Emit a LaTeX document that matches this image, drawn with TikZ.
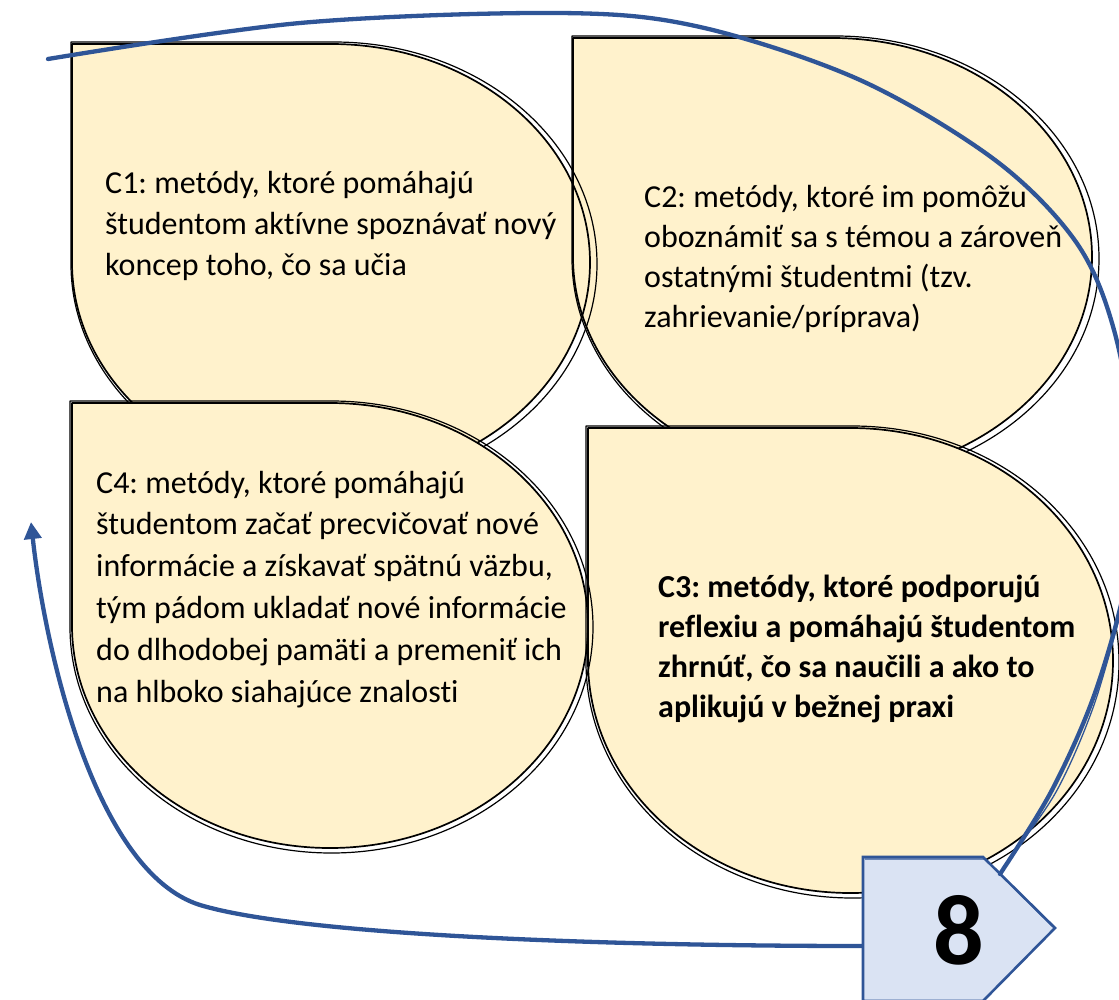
\documentclass[tikz,border=0pt]{standalone}
\usepackage{fontspec}
\setmainfont{Carlito}[Ligatures=NoCommon]
\usetikzlibrary{arrows.meta}
\definecolor{petal}{HTML}{FFF2CC}
\definecolor{loopblue}{HTML}{2F5597}
\definecolor{tagfill}{HTML}{DAE3F3}
\frenchspacing

% Teardrop outline: square top-left corner, elliptic quarters elsewhere.
% #1 = path options, #2..#5 = left, top, right, bottom (pixel units, y downwards)
\newcommand\droppath[5]{%
  \path[#1] (#2,#3) -- ({(#2+#4)/2},#3)
    .. controls ({(#2+#4)/2+0.5523*(#4-#2)/2},#3) and (#4,{(#3+#5)/2-0.5523*(#5-#3)/2}) .. (#4,{(#3+#5)/2})
    .. controls (#4,{(#3+#5)/2+0.5523*(#5-#3)/2}) and ({(#2+#4)/2+0.5523*(#4-#2)/2},#5) .. ({(#2+#4)/2},#5)
    .. controls ({(#2+#4)/2-0.5523*(#4-#2)/2},#5) and (#2,{(#3+#5)/2+0.5523*(#5-#3)/2}) .. (#2,{(#3+#5)/2})
    -- cycle;}

\tikzset{
  dropfill/.style={fill=petal},
  dropline/.style={draw=black, line width=1.7pt, line join=round},
  dropsketch/.style={draw=black, line width=1.2pt, line join=round},
  % multi-line nodes sit on the baseline of their last line
  bodytext/.style={anchor=base west, align=left, inner sep=0pt, text=black},
  loopline/.style={draw=loopblue, line width=4.3pt, line cap=round},
  tagbox/.style={fill=tagfill, draw=loopblue, line width=2.6pt, line join=miter},
}

\begin{document}
\begin{tikzpicture}[x=1pt, y=-1pt]
  \useasboundingbox (0,0) rectangle (1119,999);
  \clip (0,0) rectangle (1119,999);

  % upper row of petals: fills first, then both outlines
  \droppath{dropfill}{72}{44}{590}{481}
  \droppath{dropfill}{573}{38}{1092}{476}
  \droppath{dropline}{72}{44}{590}{481}
  \droppath{dropsketch}{71}{42}{597}{486}
  \droppath{dropline}{573}{38}{1092}{476}
  \droppath{dropsketch}{572}{36}{1099}{481}

  % lower row of petals
  \droppath{dropfill}{72}{403}{588}{848}
  \droppath{dropfill}{588}{428}{1113}{893}
  \droppath{dropline}{72}{403}{588}{848}
  \droppath{dropsketch}{70}{401}{593}{853}
  \droppath{dropline}{588}{428}{1113}{893}
  \droppath{dropsketch}{586}{426}{1119}{898}

  % texts
  \node[bodytext, font=\fontsize{32}{41}\selectfont] (c1) at (105,275)
    {C1: metódy, ktoré pomáhajú\\študentom aktívne spoznávať nový\\koncep toho, čo sa učia};
  \node[bodytext, font=\fontsize{32}{40}\selectfont] (c2) at (644,327)
    {C2: metódy, ktoré im pomôžu\\oboznámiť sa s témou a zároveň\\ostatnými študentmi (tzv.\\zahrievanie/príprava)};
  \node[bodytext, font=\fontsize{32}{41.8}\selectfont] (c4) at (96,702)
    {C4: metódy, ktoré pomáhajú\\študentom začať precvičovať nové\\informácie a získavať spätnú väzbu,\\tým pádom ukladať nové informácie\\do dlhodobej pamäti a premeniť ich\\na hlboko siahajúce znalosti};
  \node[bodytext, font=\fontsize{32}{39.7}\selectfont\bfseries] (c3) at (658,717)
    {C3: metódy, ktoré podporujú\\reflexiu a pomáhajú študentom\\zhrnúť, čo sa naučili a ako to\\aplikujú v bežnej praxi};

  % step tag
  \path[tagbox] (863,857) -- (983,857) -- (1055,928) -- (983,1001) -- (863,1001) -- cycle;
  \path[draw=loopblue, line width=1.2pt] (865,859) -- (985,859) -- (1052,926);
  \node[font=\fontsize{100}{100}\selectfont\bfseries, inner sep=0pt] (eight) at (959,930) {8};

  \coordinate (tagtop) at (1000,874);
  \coordinate (tagleft) at (863,946);
  \coordinate (loopstart) at (48,59);
  \coordinate (arrowtip) at (31,522);

  % return loop around the petals
  \draw[loopline] plot[smooth, tension=0.55] coordinates {
    (loopstart) (300,23) (560,13) (700,27) (860,80) (995,160) (1076,242)
    (1114,330) (1134,450) (1128,570) (1096,690) (1052,790) (tagtop)};
  \draw[draw=loopblue, line width=1.3pt] plot[smooth, tension=0.55] coordinates {
    (1124,600) (1094,705) (1056,792) (1008,860)};

  % arrow back to the start
  \draw[loopline, line cap=butt, -{Triangle[width=17pt,length=17pt]}]
    (tagleft) .. controls (600,946) and (300,935) .. (200,905)
    .. controls (95,872) and (45,650) .. (arrowtip);
\end{tikzpicture}
\end{document}
